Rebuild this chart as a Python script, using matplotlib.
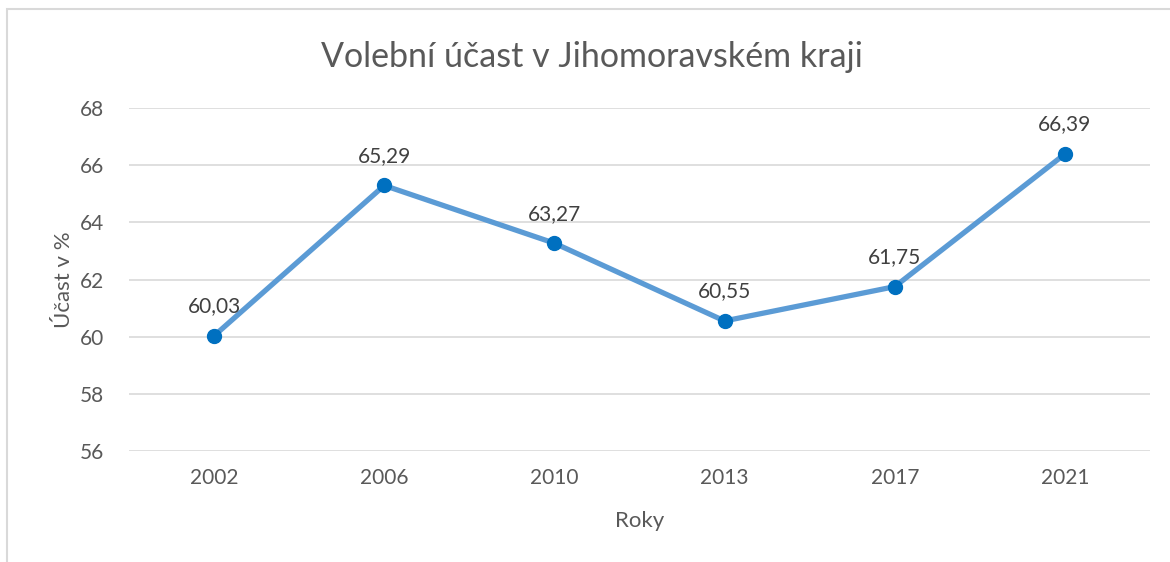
import matplotlib.pyplot as plt
from matplotlib.patches import Rectangle

years = ['2002', '2006', '2010', '2013', '2017', '2021']
turnout = [60.03, 65.29, 63.27, 60.55, 61.75, 66.39]
labels = ['60,03', '65,29', '63,27', '60,55', '61,75', '66,39']

plt.rcParams['font.family'] = ['Lato', 'DejaVu Sans']
text_color = '#595959'

fig = plt.figure(figsize=(11.7, 5.62), dpi=100)
fig.patches.append(Rectangle((7 / 1170, -0.1), 1.2, 1 - 9 / 562 + 0.1,
                             transform=fig.transFigure, fill=False,
                             edgecolor='#D9D9D9', linewidth=1.5))

ax = fig.add_axes([129 / 1170, 1 - 451 / 562, (1150 - 129) / 1170, (451 - 108) / 562])
x = range(len(years))
ax.plot(x, turnout, color='#5B9BD5', linewidth=3.8, marker='o',
        markersize=10, markerfacecolor='#0070C0', markeredgecolor='#0070C0', zorder=3)
for i, (v, lab) in enumerate(zip(turnout, labels)):
    ax.annotate(lab, (i, v), xytext=(0, 14), textcoords='offset points',
                ha='center', va='bottom', fontsize=15, color='#404040')

ax.set_xlim(-0.5, len(years) - 0.5)
ax.set_ylim(56, 68)
ax.set_yticks(range(56, 69, 2))
ax.set_xticks(list(x))
ax.set_xticklabels(years)
ax.grid(axis='y', color='#D9D9D9', linewidth=1.2)
ax.set_axisbelow(True)
for s in ax.spines.values():
    s.set_visible(False)
ax.tick_params(length=0, labelsize=15, labelcolor=text_color, pad=12)
ax.tick_params(axis='y', pad=18)

ax.set_xlabel('Roky', fontsize=16, color=text_color, labelpad=17)
ax.set_ylabel('Účast v %', fontsize=16, color=text_color, labelpad=4)
fig.text(592 / 1170, 1 - 57 / 562, 'Volební účast v Jihomoravském kraji',
         fontsize=24.5, color=text_color, ha='center', va='center')

fig.savefig('out.png', dpi=100)
